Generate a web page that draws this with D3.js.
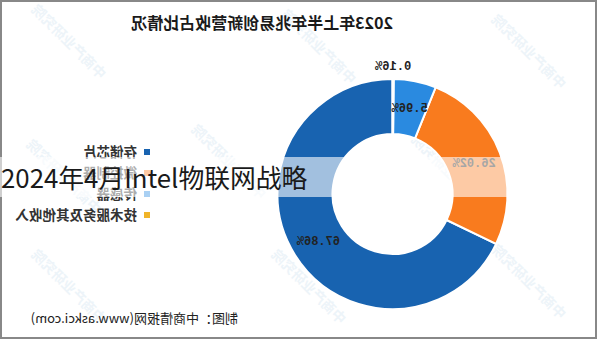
<!DOCTYPE html>
<html>
<head>
<meta charset="utf-8">
<script src="https://cdn.jsdelivr.net/npm/d3@7"></script>
<style>
  body { margin: 0; background: #fff; }
  svg { display: block; }
</style>
</head>
<body>
<div id="chart"></div>
<script>
// chart data
const categories = ["存储芯片", "微控制器", "传感器", "技术服务及其他收入"];
const values = [67.86, 26.02, 5.96, 0.16];
const colors = ["#1863b0", "#f97b1e", "#2a8ae0", "#f0b429"];

const titleText = "2023年上半年兆易创新营收占比情况";
const sourceText = "制图：中商情报网(www.askci.com)";
const bannerText = "2024年4月Intel物联网战略";

const width = 600,
    height = 340;

const svg = d3.select("#chart")
    .append("svg")
    .attr("width", width)
    .attr("height", height);

// the picture is mirrored left to right
const g = svg.append("g")
    .attr("transform", `translate(${width},0) scale(-1,1)`);

// faint watermarks
const marks = [[40, 90], [250, 85], [500, 80], [120, 210], [340, 200], [505, 215], [40, 320], [260, 325], [500, 325]];
g.append("g")
    .selectAll("text")
    .data(marks)
    .enter()
    .append("text")
        .attr("transform", d => `translate(${d[0]},${d[1]}) rotate(-45)`)
        .text("中商产业研究院")
        .style("font-family", "'Noto Sans CJK SC'")
        .style("font-size", "14px")
        .style("font-weight", "bold")
        .style("fill", "#c6dcec")
        .style("opacity", 0.3);

// title
g.append("text")
    .attr("x", 338)
    .attr("y", 29)
    .attr("text-anchor", "middle")
    .text(titleText)
    .style("font-family", "'Noto Sans CJK SC'")
    .style("font-size", "16px")
    .style("font-weight", "bold")
    .style("fill", "#1a1a1a");

// donut
const cx = 207.5, cy = 194;
const pie = d3.pie().sort(null).value(d => d);
const arcs = pie(values);
const arc = d3.arc().innerRadius(60).outerRadius(115);
const labelArc = d3.arc().innerRadius(87.5).outerRadius(87.5);
const outerLabelArc = d3.arc().innerRadius(128).outerRadius(128);

const donut = g.append("g")
    .attr("transform", `translate(${cx},${cy})`);

donut.selectAll("path")
    .data(arcs)
    .enter()
    .append("path")
        .attr("d", arc)
        .style("fill", (d, i) => colors[i])
        .style("stroke", "#fff")
        .style("stroke-width", 2);

donut.selectAll("text")
    .data(arcs)
    .enter()
    .append("text")
        .attr("transform", (d, i) => {
            const p = i === 3 ? outerLabelArc.centroid(d) : labelArc.centroid(d);
            return `translate(${p[0]},${p[1]})`;
        })
        .attr("text-anchor", "middle")
        .attr("dy", "0.35em")
        .text(d => d.value.toFixed(2) + "%")
        .style("font-family", "'Liberation Mono'")
        .style("font-size", "12px")
        .style("font-weight", "bold")
        .style("fill", "#222");

// legend
const legend = g.append("g")
    .selectAll("g")
    .data(categories)
    .enter()
    .append("g")
        .attr("transform", (d, i) => `translate(453,${152 + i * 21})`);

legend.append("rect")
    .attr("x", -3)
    .attr("y", -3)
    .attr("width", 6)
    .attr("height", 6)
    .style("fill", (d, i) => colors[i]);

legend.append("text")
    .attr("x", 10)
    .attr("dy", "0.35em")
    .text(d => d)
    .style("font-family", "'Noto Sans CJK SC'")
    .style("font-size", "13.5px")
    .style("font-weight", "bold")
    .style("fill", "#333");

// source line
g.append("text")
    .attr("x", 362)
    .attr("y", 323)
    .text(sourceText)
    .style("font-family", "'Noto Sans CJK SC'")
    .style("font-size", "13px")
    .style("fill", "#222");

// frame
svg.append("rect")
    .attr("x", 1)
    .attr("y", 1)
    .attr("width", 595)
    .attr("height", 337)
    .style("fill", "none")
    .style("stroke", "#888")
    .style("stroke-width", 2);

// banner over the chart
svg.append("rect")
    .attr("x", 0)
    .attr("y", 157)
    .attr("width", 510)
    .attr("height", 40)
    .style("fill", "#fff")
    .style("opacity", 0.6);

svg.append("text")
    .attr("x", 1)
    .attr("y", 188)
    .text(bannerText)
    .style("font-family", "'Noto Sans CJK SC'")
    .style("font-size", "25.8px")
    .style("fill", "#1a1a1a");
</script>
</body>
</html>
